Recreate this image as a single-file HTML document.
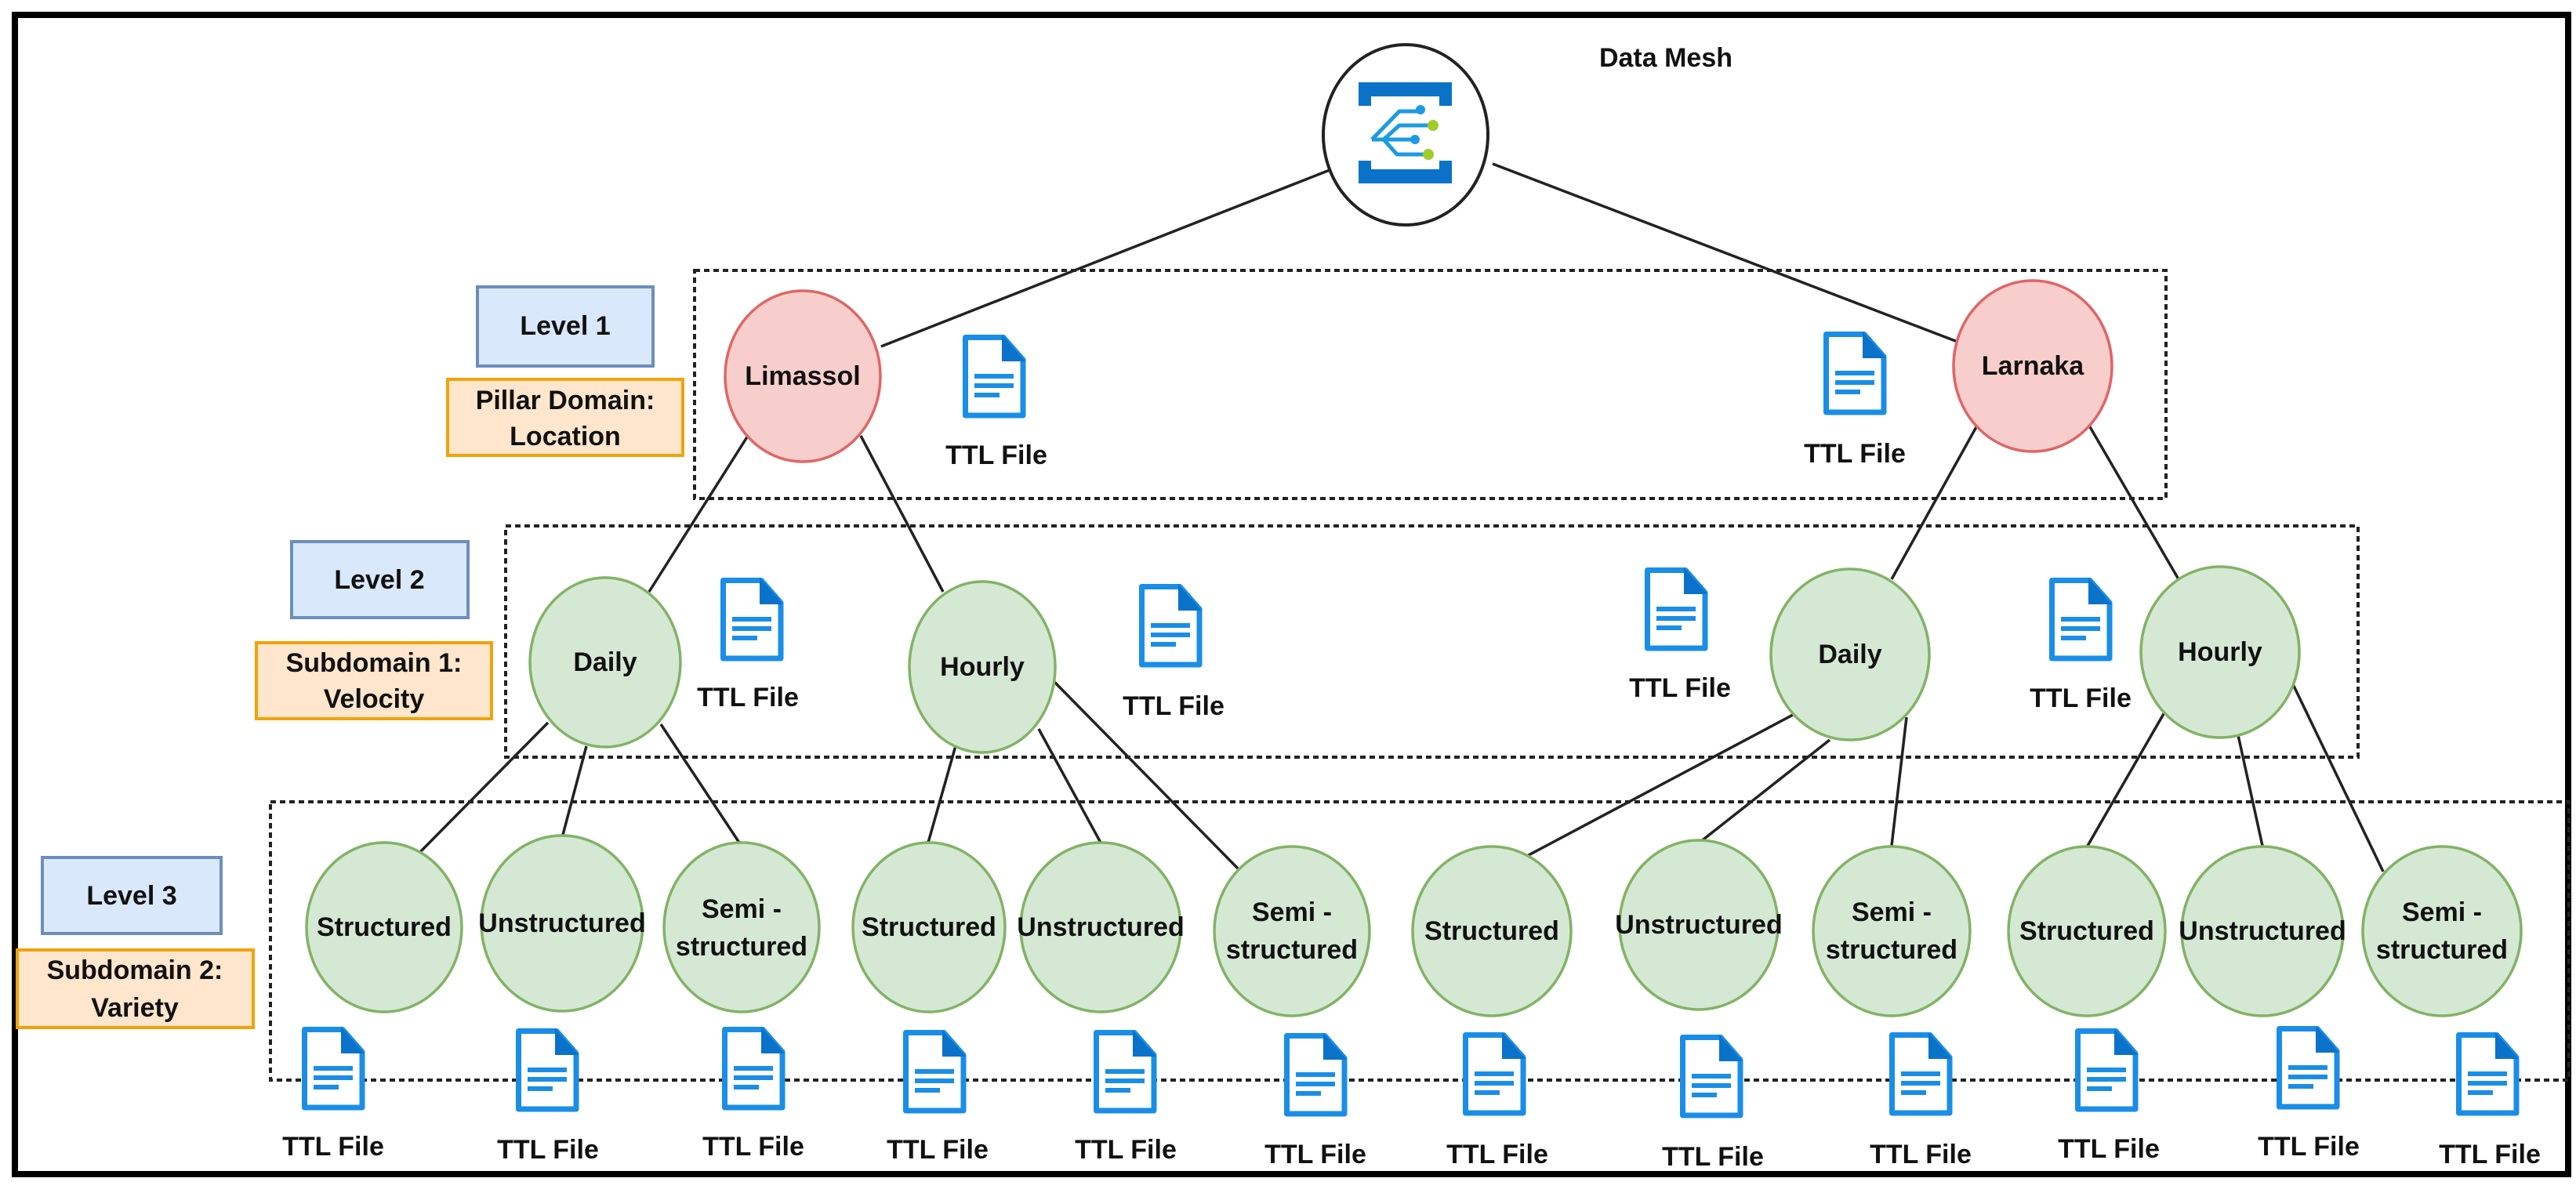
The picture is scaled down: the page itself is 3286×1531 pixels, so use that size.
<!DOCTYPE html>
<html><head><meta charset="utf-8"><style>
html,body{margin:0;padding:0;background:#fff;}
svg{display:block;}
text{font-family:"Liberation Sans",sans-serif;font-weight:bold;font-size:34px;fill:#111;text-anchor:middle;dominant-baseline:central;}
</style></head><body>
<svg width="3286" height="1531" viewBox="0 0 3286 1531" xmlns="http://www.w3.org/2000/svg">
<defs>
<g id="doc">
<path d="M3.5,3.5 H52 L77,32 V103 H3.5 Z" fill="#fff" stroke="#1a8ee6" stroke-width="7" stroke-linejoin="round"/>
<path d="M50,0 V34 H80 Z" fill="#0a72c8"/>
<rect x="15" y="50" width="50" height="6" fill="#1a8ee6"/>
<rect x="15" y="62" width="50" height="6" fill="#1a8ee6"/>
<rect x="15" y="74" width="32" height="6" fill="#1a8ee6"/>
</g>
</defs>
<rect x="0" y="0" width="3286" height="1531" fill="#fff"/>
<rect x="19" y="19" width="3257" height="1479" fill="none" stroke="#000" stroke-width="8"/>

<!-- dotted level boxes -->
<g fill="none" stroke="#222" stroke-width="4" stroke-dasharray="7 5">
<rect x="886" y="345" width="1877" height="291"/>
<rect x="645" y="671" width="2363" height="295"/>
<rect x="345" y="1023" width="2932" height="355"/>
</g>

<!-- connectors -->
<g stroke="#222" stroke-width="3.5" fill="none">
<line x1="1696" y1="217" x2="1124" y2="442"/>
<line x1="1904" y1="209" x2="2497" y2="436"/>
<line x1="954" y1="556" x2="828" y2="755"/>
<line x1="1098" y1="556" x2="1203" y2="755"/>
<line x1="2522" y1="543" x2="2413" y2="739"/>
<line x1="2665" y1="543" x2="2779" y2="739"/>
<line x1="699" y1="922" x2="534" y2="1089"/>
<line x1="748" y1="952" x2="718" y2="1065"/>
<line x1="843" y1="924" x2="943" y2="1075"/>
<line x1="1220" y1="948" x2="1184" y2="1075"/>
<line x1="1325" y1="930" x2="1404" y2="1075"/>
<line x1="1345" y1="870" x2="1579" y2="1108"/>
<line x1="2287" y1="912" x2="1948" y2="1092"/>
<line x1="2334" y1="944" x2="2169" y2="1074"/>
<line x1="2432" y1="915" x2="2413" y2="1079"/>
<line x1="2761" y1="909" x2="2663" y2="1079"/>
<line x1="2855" y1="938" x2="2886" y2="1079"/>
<line x1="2924" y1="871" x2="3040" y2="1112"/>
</g>

<!-- top node -->
<ellipse cx="1793" cy="172" rx="105" ry="115" fill="#fff" stroke="#222" stroke-width="4"/>
<g fill="#0a72c8">
<rect x="1733" y="105" width="119" height="18"/><rect x="1733" y="105" width="16" height="30"/><rect x="1836" y="105" width="16" height="30"/>
<rect x="1733" y="216" width="119" height="18"/><rect x="1733" y="205" width="16" height="29"/><rect x="1836" y="205" width="16" height="29"/>
</g>
<g stroke="#1c9be0" stroke-width="5" fill="none" stroke-linejoin="round">
<path d="M1750,178 L1785,142 H1812"/>
<path d="M1765,178 L1785,160 H1828"/>
<path d="M1750,178 H1805"/>
<path d="M1765,178 L1782,197 H1822"/>
</g>
<circle cx="1812" cy="140" r="6" fill="#1c9be0"/><circle cx="1828" cy="160" r="7" fill="#9fcc2a"/>
<circle cx="1805" cy="178" r="6" fill="#1c9be0"/><circle cx="1822" cy="197" r="7" fill="#9fcc2a"/>
<text x="2125" y="74">Data Mesh</text>

<!-- left labels -->
<rect x="609" y="366" width="224" height="101" fill="#dae8fc" stroke="#6c8ebf" stroke-width="4"/>
<text x="721" y="416">Level 1</text>
<rect x="571" y="484" width="300" height="97" fill="#ffe6cc" stroke="#f0a30a" stroke-width="4"/>
<text x="721" y="511">Pillar Domain:</text><text x="721" y="557">Location</text>
<rect x="372" y="691" width="225" height="97" fill="#dae8fc" stroke="#6c8ebf" stroke-width="4"/>
<text x="484" y="740">Level 2</text>
<rect x="327" y="820" width="300" height="97" fill="#ffe6cc" stroke="#f0a30a" stroke-width="4"/>
<text x="477" y="846">Subdomain 1:</text><text x="477" y="892">Velocity</text>
<rect x="54" y="1094" width="228" height="97" fill="#dae8fc" stroke="#6c8ebf" stroke-width="4"/>
<text x="168" y="1143">Level 3</text>
<rect x="22" y="1212" width="301" height="99" fill="#ffe6cc" stroke="#f0a30a" stroke-width="4"/>
<text x="172" y="1238">Subdomain 2:</text><text x="172" y="1286">Variety</text>

<!-- level 1 nodes -->
<g fill="#f8cecc" stroke="#e06666" stroke-width="3.5">
<ellipse cx="1024" cy="480" rx="99" ry="109"/>
<ellipse cx="2593" cy="467" rx="101" ry="109"/>
</g>
<text x="1024" y="480">Limassol</text>
<text x="2593" y="467">Larnaka</text>

<!-- level 2 nodes -->
<g fill="#d5e8d4" stroke="#82b366" stroke-width="3.5">
<ellipse cx="772" cy="845" rx="96" ry="108"/>
<ellipse cx="1253" cy="851" rx="93" ry="109"/>
<ellipse cx="2360" cy="835" rx="101" ry="109"/>
<ellipse cx="2832" cy="832" rx="101" ry="109"/>
</g>
<text x="772" y="845">Daily</text><text x="1253" y="851">Hourly</text>
<text x="2360" y="835">Daily</text><text x="2832" y="832">Hourly</text>

<!-- level 3 nodes -->
<g fill="#d5e8d4" stroke="#82b366" stroke-width="3.5">
<ellipse cx="490" cy="1183" rx="99" ry="108"/>
<ellipse cx="717" cy="1178" rx="103" ry="112"/>
<ellipse cx="946" cy="1183" rx="99" ry="108"/>
<ellipse cx="1185" cy="1183" rx="97" ry="108"/>
<ellipse cx="1404" cy="1183" rx="102" ry="108"/>
<ellipse cx="1648" cy="1188" rx="99" ry="108"/>
<ellipse cx="1903" cy="1188" rx="101" ry="108"/>
<ellipse cx="2167" cy="1180" rx="101" ry="108"/>
<ellipse cx="2413" cy="1188" rx="100" ry="108"/>
<ellipse cx="2662" cy="1188" rx="100" ry="108"/>
<ellipse cx="2886" cy="1188" rx="103" ry="108"/>
<ellipse cx="3115" cy="1188" rx="101" ry="108"/>
</g>
<text x="490" y="1183">Structured</text>
<text x="717" y="1178" font-size="32">Unstructured</text>
<text x="946" y="1160">Semi -</text><text x="946" y="1208">structured</text>
<text x="1185" y="1183">Structured</text>
<text x="1404" y="1183" font-size="32">Unstructured</text>
<text x="1648" y="1164">Semi -</text><text x="1648" y="1212">structured</text>
<text x="1903" y="1188">Structured</text>
<text x="2167" y="1180" font-size="32">Unstructured</text>
<text x="2413" y="1164">Semi -</text><text x="2413" y="1212">structured</text>
<text x="2662" y="1188">Structured</text>
<text x="2886" y="1188" font-size="32">Unstructured</text>
<text x="3115" y="1164">Semi -</text><text x="3115" y="1212">structured</text>

<!-- doc icons + labels -->
<use href="#doc" x="1228" y="427"/><text x="1271" y="581">TTL File</text>
<use href="#doc" x="2326" y="423"/><text x="2366" y="579">TTL File</text>
<use href="#doc" x="919" y="737"/><text x="954" y="890">TTL File</text>
<use href="#doc" x="1453" y="745"/><text x="1497" y="901">TTL File</text>
<use href="#doc" x="2098" y="724"/><text x="2143" y="878">TTL File</text>
<use href="#doc" x="2614" y="737"/><text x="2654" y="891">TTL File</text>

<use href="#doc" x="385" y="1310"/><text x="425" y="1463">TTL File</text>
<use href="#doc" x="658" y="1312"/><text x="699" y="1467">TTL File</text>
<use href="#doc" x="921" y="1310"/><text x="961" y="1463">TTL File</text>
<use href="#doc" x="1152" y="1314"/><text x="1196" y="1467">TTL File</text>
<use href="#doc" x="1395" y="1314"/><text x="1436" y="1467">TTL File</text>
<use href="#doc" x="1638" y="1318"/><text x="1678" y="1473">TTL File</text>
<use href="#doc" x="1866" y="1317"/><text x="1910" y="1473">TTL File</text>
<use href="#doc" x="2143" y="1320"/><text x="2185" y="1476">TTL File</text>
<use href="#doc" x="2410" y="1317"/><text x="2450" y="1473">TTL File</text>
<use href="#doc" x="2647" y="1312"/><text x="2690" y="1466">TTL File</text>
<use href="#doc" x="2904" y="1309"/><text x="2945" y="1463">TTL File</text>
<use href="#doc" x="3133" y="1317"/><text x="3176" y="1473">TTL File</text>
</svg>
</body></html>
